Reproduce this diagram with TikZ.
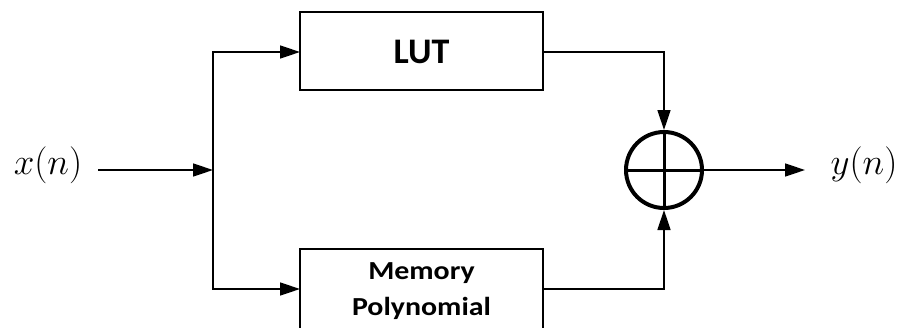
\RequirePackage{fix-cm}
\documentclass[tikz,border=0pt]{standalone}
\usepackage{fontspec}
\newfontfamily\labelfont{Carlito}
\newfontfamily\widelabelfont[FakeStretch=1.15]{Carlito}
\usetikzlibrary{arrows.meta}
\begin{document}
\begin{tikzpicture}[x=1pt,y=-1pt,
  wire/.style={line width=1.5pt},
  flow/.style={wire,-{Triangle[length=20pt,width=13pt]}},
  block/.style={draw,line width=1.5pt},
  sig/.style={inner sep=0pt,font=\fontsize{37}{42}\selectfont}]
\useasboundingbox (0,0) rectangle (905,327);
\clip (0,0) rectangle (905,327);

% processing blocks
\draw[block] (300,12) rectangle (543,90);
\node[font=\labelfont\bfseries\fontsize{36}{40}\selectfont,anchor=base] (lut) at (421.5,63) {LUT};
\draw[block] (300,249) rectangle (543,345);
\node[font=\widelabelfont\bfseries\fontsize{26}{36}\selectfont,align=center,inner sep=0pt] (mp) at (421.5,291) {Memory\\Polynomial};
\coordinate (lutW) at (300,52);
\coordinate (lutE) at (543,52);
\coordinate (mpW) at (300,289);
\coordinate (mpE) at (543,289);

% summing junction
\node[circle,draw,line width=4pt,minimum size=76pt,inner sep=0pt] (sum) at (664,170) {};
\draw[line width=3pt] (sum.north) -- (sum.south);
\draw[line width=3pt] (sum.west) -- (sum.east);

% input and output labels
\node[sig,anchor=base] (xin) at (48,174) {$x(n)$};
\node[sig,anchor=base] (yout) at (864,174) {$y(n)$};
\coordinate (inS) at (98,170);
\coordinate (split) at (213,170);
\coordinate (outE) at (805,170);

% connectors
\draw[flow] (inS) -- (split);
\draw[flow] (split) |- (lutW);
\draw[flow] (split) |- (mpW);
\draw[flow] (lutE) -| (sum.north);
\draw[flow] (mpE) -| (sum.south);
\draw[flow] (sum.east) -- (outE);
\end{tikzpicture}
\end{document}
